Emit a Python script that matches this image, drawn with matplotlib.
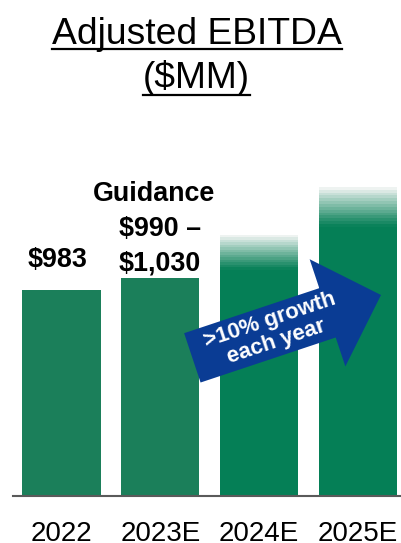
import matplotlib
matplotlib.use("Agg")
import matplotlib.pyplot as plt
import numpy as np
from matplotlib.patches import FancyArrow
from matplotlib.lines import Line2D
import matplotlib.transforms as mtransforms

# ---- data ----
categories = ["2022", "2023E", "2024E", "2025E"]
solid_values = [983, 1040, 1081, 1287]      # solid part of each bar
faded_top_values = [983, 1040, 1248, 1478]  # top of the faded (gradient) part
bar_colors = ["#1b7f5a", "#1b7f5a", "#057f56", "#057f56"]
label_2022 = "$983"
label_2023 = ["Guidance", "$990 –", "$1,030"]
arrow_text = ">10% growth\neach year"
title_lines = ["Adjusted EBITDA", "($MM)"]

W, H = 402, 543
DPI = 100
fig = plt.figure(figsize=(W / DPI, H / DPI), dpi=DPI)
plt.rcParams['font.family'] = ['Liberation Sans', 'DejaVu Sans']

def fx(px):
    return px / W

def fy(py):
    return 1 - py / H

ax = fig.add_axes([fx(13), fy(496), fx(402) - fx(13), fy(130) - fy(496)])
x = np.arange(len(categories))
bar_w = 0.79
ax.bar(x, solid_values, width=bar_w, color=bar_colors, zorder=2)

# gradient (banded) tops
n_bands = 14
base_rgb = np.array(matplotlib.colors.to_rgb("#057f56"))
for i in range(len(categories)):
    lo, hi = solid_values[i], faded_top_values[i]
    if hi <= lo:
        continue
    edges = np.linspace(lo, hi, n_bands + 1)
    for k in range(n_bands):
        t = (k + 0.5) / n_bands
        mix = t ** 1.1
        col = base_rgb * (1 - mix) + np.ones(3) * mix * 0.97 + (1 - 0.97) * 0 * mix
        col = np.clip(col, 0, 1)
        ax.bar(x[i], edges[k + 1] - edges[k], bottom=edges[k], width=bar_w,
               color=col, zorder=2, linewidth=0)

ax.set_xlim(-0.491, 3.446)
ax.set_ylim(0, 1750)
for s in ["top", "right", "left"]:
    ax.spines[s].set_visible(False)
ax.spines["bottom"].set_color("#5a5a5a")
ax.spines["bottom"].set_linewidth(1.5)
ax.spines["bottom"].set_zorder(3)
ax.set_yticks([])
ax.set_xticks(x)
ax.set_xticklabels(categories, fontsize=20)
ax.tick_params(axis="x", length=0, pad=18)
ax.patch.set_visible(False)

# bar labels
ax.annotate(label_2022, xy=(x[0], solid_values[0]), xytext=(-3.2, 17),
            textcoords="offset points", ha="center", va="baseline",
            fontsize=19.4, fontweight="bold")
offsets = [(-4.7, 55.5), (0, 30.5), (-0.5, 5.5)]
for txt, (dx, dy) in zip(label_2023, offsets):
    ax.annotate(txt, xy=(x[1], solid_values[1]), xytext=(dx, dy),
                textcoords="offset points", ha="center", va="baseline",
                fontsize=19.4, fontweight="bold")

# title with underline
fig.canvas.draw()
renderer = fig.canvas.get_renderer()
title_specs = [(title_lines[0], 197, 44, 48.5), (title_lines[1], 196.5, 88, 95)]
for txt, cx, by, uy in title_specs:
    t = fig.text(fx(cx), fy(by), txt, ha="center", va="baseline", fontsize=26.8)
    bb = t.get_window_extent(renderer=renderer)
    fig.add_artist(Line2D([bb.x0 / W, bb.x1 / W], [fy(uy), fy(uy)],
                          transform=fig.transFigure, color="black", lw=1.6))

# arrow in pixel coordinates (y down)
pix = mtransforms.Affine2D().scale(1 / W, -1 / H).translate(0, 1) + fig.transFigure
tail = (192.35, 357.85)
tip = (381.0, 295.0)
arr = FancyArrow(tail[0], tail[1], tip[0] - tail[0], tip[1] - tail[1],
                 width=52, head_width=113, head_length=56.4,
                 length_includes_head=True, transform=pix,
                 color="#0a3c94", linewidth=0, zorder=5)
fig.add_artist(arr)
ang = np.degrees(np.arctan2(-(tip[1] - tail[1]), tip[0] - tail[0]))
fig.text(fx(273), fy(331), arrow_text, ha="center", va="center",
         rotation=ang, rotation_mode="anchor", color="white",
         fontsize=16, fontweight="bold", linespacing=1.05, zorder=6)

fig.savefig("out.png", dpi=DPI)
